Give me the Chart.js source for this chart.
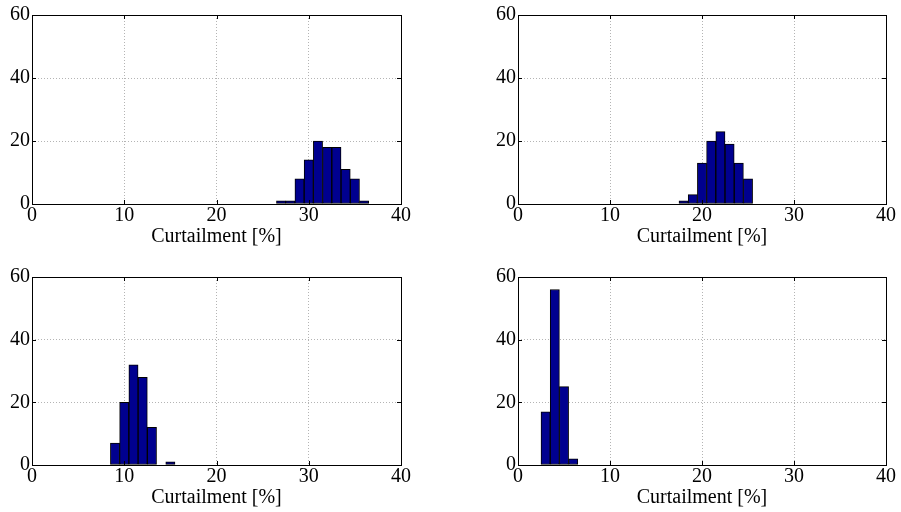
<!DOCTYPE html>
<html>
<head>
<meta charset="utf-8">
<script src="https://cdn.jsdelivr.net/npm/chart.js@4.4.1/dist/chart.umd.min.js"></script>
<style>
  html, body { margin: 0; padding: 0; background: #fff; }
  body { width: 901px; height: 512px; position: relative; overflow: hidden; }
  canvas { position: absolute; }
</style>
</head>
<body>
<canvas id="c1" width="450" height="256" style="left:0;top:0"></canvas>
<canvas id="c2" width="450" height="256" style="left:451px;top:0"></canvas>
<canvas id="c3" width="450" height="256" style="left:0;top:256px"></canvas>
<canvas id="c4" width="450" height="256" style="left:451px;top:256px"></canvas>
<script>
// histogram bin centres [%] and counts, one pair per subplot
const binsA = [27, 28, 29, 30, 31, 32, 33, 34, 35, 36];
const countsA = [1, 1, 8, 14, 20, 18, 18, 11, 8, 1];

const binsB = [18, 19, 20, 21, 22, 23, 24, 25];
const countsB = [1, 3, 13, 20, 23, 19, 13, 8];

const binsC = [9, 10, 11, 12, 13, 14, 15];
const countsC = [7, 20, 32, 28, 12, 0, 1];

const binsD = [3, 4, 5, 6];
const countsD = [17, 56, 25, 2];

// axis ticks
const xTicks = [0, 10, 20, 30, 40];
const yTicks = [0, 20, 40, 60];
const xTitle = "Curtailment [%]";

const fontFamily = "'Liberation Serif', 'Times New Roman', serif";

// black box with inward tick marks, matlab style
const boxPlugin = {
  id: "box",
  afterDraw(chart) {
    const { ctx, chartArea: a, scales } = chart;
    const len = 4;
    ctx.save();
    ctx.strokeStyle = "#000";
    ctx.lineWidth = 1;
    ctx.beginPath();
    scales.x.ticks.forEach((t) => {
      const px = Math.round(scales.x.getPixelForValue(t.value)) + 0.5;
      ctx.moveTo(px, a.bottom);
      ctx.lineTo(px, a.bottom - len);
      ctx.moveTo(px, a.top);
      ctx.lineTo(px, a.top + len);
    });
    scales.y.ticks.forEach((t) => {
      const py = Math.round(scales.y.getPixelForValue(t.value)) + 0.5;
      ctx.moveTo(a.left, py);
      ctx.lineTo(a.left + len, py);
      ctx.moveTo(a.right, py);
      ctx.lineTo(a.right - len, py);
    });
    ctx.stroke();
    ctx.strokeRect(Math.round(a.left) + 0.5, Math.round(a.top) + 0.5,
      Math.round(a.right - a.left), Math.round(a.bottom - a.top));
    ctx.restore();
  },
};

// subplot placement inside each canvas
const panels = [
  { id: "c1", bins: binsA, counts: countsA, yWidth: 32, padTop: 15, padRight: 49, xHeight: 52 },
  { id: "c2", bins: binsB, counts: countsB, yWidth: 67, padTop: 15, padRight: 15, xHeight: 52 },
  { id: "c3", bins: binsC, counts: countsC, yWidth: 32, padTop: 21, padRight: 49, xHeight: 47 },
  { id: "c4", bins: binsD, counts: countsD, yWidth: 67, padTop: 21, padRight: 15, xHeight: 47 },
];

panels.forEach((p) => {
  new Chart(document.getElementById(p.id), {
    type: "bar",
    data: {
      datasets: [
        {
          data: p.bins.map((b, i) => ({ x: b, y: p.counts[i] })),
          backgroundColor: "#00008f",
          borderColor: "#000000",
          borderWidth: 1,
          borderSkipped: false,
          barPercentage: 1,
          categoryPercentage: 1,
        },
      ],
    },
    options: {
      responsive: false,
      animation: false,
      events: [],
      layout: { padding: { top: p.padTop, right: p.padRight, left: 0, bottom: 0 } },
      plugins: {
        legend: { display: false },
        tooltip: { enabled: false },
      },
      scales: {
        x: {
          type: "linear",
          offset: false,
          min: xTicks[0],
          max: xTicks[xTicks.length - 1],
          afterFit: (scale) => {
            scale.height = p.xHeight;
          },
          grid: { color: "#b4b4b4", lineWidth: 1, drawTicks: false, offset: false },
          border: { display: false, dash: [1, 2] },
          ticks: {
            stepSize: xTicks[1] - xTicks[0],
            color: "#000",
            padding: 0,
            maxRotation: 0,
            autoSkip: false,
            font: { family: fontFamily, size: 20 },
          },
          title: {
            display: true,
            text: xTitle,
            color: "#000",
            font: { family: fontFamily, size: 20 },
            padding: { top: 0, bottom: p.xHeight - 44.5 },
          },
        },
        y: {
          min: yTicks[0],
          max: yTicks[yTicks.length - 1],
          afterFit: (scale) => {
            scale.width = p.yWidth;
          },
          grid: { color: "#b4b4b4", lineWidth: 1, drawTicks: false },
          border: { display: false, dash: [1, 2] },
          ticks: {
            stepSize: yTicks[1] - yTicks[0],
            color: "#000",
            padding: 2,
            autoSkip: false,
            font: { family: fontFamily, size: 20 },
          },
        },
      },
    },
    plugins: [boxPlugin],
  });
});
</script>
</body>
</html>
